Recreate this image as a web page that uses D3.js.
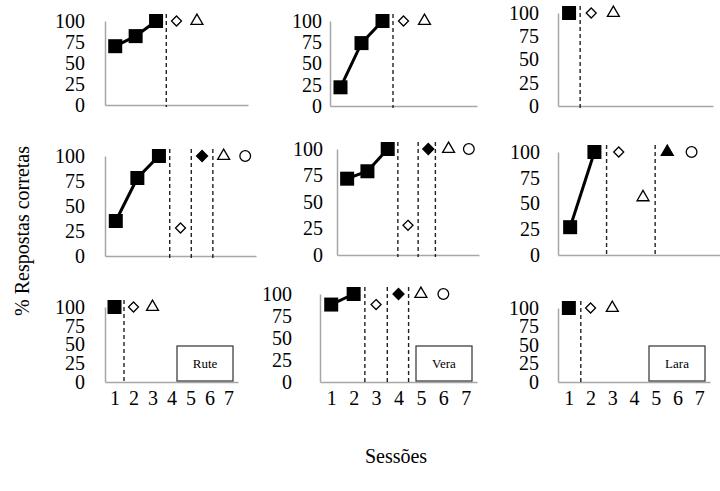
<!DOCTYPE html>
<html>
<head>
<meta charset="utf-8">
<script src="https://cdn.jsdelivr.net/npm/d3@7"></script>
<style>
  body { margin: 0; background: #fff; }
  svg { display: block; font-family: "Liberation Serif", "Times New Roman", serif; }
</style>
</head>
<body>
<svg id="chart" width="720" height="491"></svg>
<script>
// values, one entry per panel (row by row)
const sessions = [1, 2, 3, 4, 5, 6, 7];
const yTicks = [0, 25, 50, 75, 100];
const names = [null, null, null, null, null, null, "Rute", "Vera", "Lara"];

const baseline = [[70, 82, 100], [22, 74, 100], [100], [35, 78, 100], [72, 79, 100], [27, 100], [100], [88, 100], [100]];
const openDiamond = [[4, 100], [4, 100], [2, 100], [4, 28], [4, 28], [3, 100], [2, 100], [3, 88], [2, 100]];
const filledDiamond = [null, null, null, [5, 100], [5, 100], null, null, [4, 100], null];
const openTriangle = [[5, 100], [5, 100], [3, 100], [6, 100], [6, 100], [4, 56], [3, 100], [5, 100], [3, 100]];
const filledTriangle = [null, null, null, null, null, [5, 100], null, null, null];
const openCircle = [null, null, null, [7, 100], [7, 100], [6, 100], null, [6, 100], null];
const phaseLines = [[3.5], [3.5], [1.5], [3.5, 4.5, 5.5], [3.5, 4.5, 5.35], [2.5, 4.5], [1.5], [2.5, 3.5, 4.45], [1.55]];

// panel frames in pixels: axis left/right, y of 100 and of 0, right edge of the y labels
const frames = [
  { x0: 105, x1: 248, top: 21, bottom: 105, lx: 85 },
  { x0: 330, x1: 477, top: 21, bottom: 106, lx: 322 },
  { x0: 558, x1: 713, top: 13, bottom: 106, lx: 539 },
  { x0: 105, x1: 256, top: 156, bottom: 256, lx: 85 },
  { x0: 337, x1: 479, top: 149, bottom: 255, lx: 323 },
  { x0: 558, x1: 728, top: 152, bottom: 255, lx: 540 },
  { x0: 105, x1: 238, top: 307, bottom: 382, lx: 85 },
  { x0: 320, x1: 477, top: 294, bottom: 382, lx: 292 },
  { x0: 558, x1: 710, top: 308, bottom: 382, lx: 539 }
];

const svg = d3.select("#chart");
svg.append("rect").attr("width", 720).attr("height", 491).attr("fill", "#fff");

const axisGray = "#a6a6a6";
const diamond = (r) => `M0,${-r}L${r},0L0,${r}L${-r},0Z`;

const styleAxis = (a) => {
  a.attr("font-family", null).attr("font-size", 20);
  a.select(".domain").attr("stroke", axisGray).attr("stroke-width", 1.5);
  a.selectAll(".tick text").attr("fill", "#000");
};

frames.forEach((f, i) => {
  const x = d3.scaleLinear().domain([0.5, 7.5]).range([f.x0, f.x1]);
  const y = d3.scaleLinear().domain([0, 100]).range([f.bottom, f.top]);
  const g = svg.append("g");

  // y axis
  g.append("g")
    .attr("transform", `translate(${f.x0},0)`)
    .call(d3.axisLeft(y).tickValues(yTicks).tickFormat(d3.format("d"))
      .tickSize(0).tickSizeOuter(0).tickPadding(f.x0 - f.lx))
    .call(styleAxis);

  // x axis, labels only on the bottom row
  const bottomRow = i >= 6;
  g.append("g")
    .attr("transform", `translate(0,${f.bottom})`)
    .call(d3.axisBottom(x).tickValues(bottomRow ? sessions : []).tickFormat(d3.format("d"))
      .tickSize(0).tickSizeOuter(0).tickPadding(9))
    .call(styleAxis);

  // phase change lines
  g.selectAll(".phase")
    .data(phaseLines[i])
    .join("line")
    .attr("x1", (d) => x(d))
    .attr("x2", (d) => x(d))
    .attr("y1", f.top - 7)
    .attr("y2", f.bottom + 2)
    .attr("stroke", "#222")
    .attr("stroke-width", 1.4)
    .attr("stroke-dasharray", "4,3");

  // baseline squares with line
  const pts = baseline[i].map((v, k) => [sessions[k], v]);
  g.append("path")
    .datum(pts)
    .attr("fill", "none")
    .attr("stroke", "#000")
    .attr("stroke-width", 3)
    .attr("d", d3.line().x((d) => x(d[0])).y((d) => y(d[1])));
  g.selectAll(".sq")
    .data(pts)
    .join("rect")
    .attr("x", (d) => x(d[0]) - 7)
    .attr("y", (d) => y(d[1]) - 7)
    .attr("width", 14)
    .attr("height", 14)
    .attr("fill", "#000");

  const mark = (d, path, filled) => {
    if (!d) return;
    g.append("path")
      .attr("transform", `translate(${x(d[0])},${y(d[1])})`)
      .attr("d", path)
      .attr("fill", filled ? "#000" : "#fff")
      .attr("stroke", "#000")
      .attr("stroke-width", 1.3);
  };
  mark(openDiamond[i], diamond(5), false);
  mark(filledDiamond[i], diamond(5.5), true);
  mark(openTriangle[i], d3.symbol(d3.symbolTriangle, 62)(), false);
  mark(filledTriangle[i], d3.symbol(d3.symbolTriangle, 62)(), true);
  mark(openCircle[i], d3.symbol(d3.symbolCircle, 90)(), false);

  // participant name box
  if (names[i]) {
    const bx = f.x1 - 61, by = f.bottom - 36;
    g.append("rect")
      .attr("x", bx).attr("y", by).attr("width", 56).attr("height", 35)
      .attr("fill", "#fff").attr("stroke", "#404040").attr("stroke-width", 1.3);
    g.append("text")
      .attr("x", bx + 28).attr("y", by + 22)
      .attr("text-anchor", "middle")
      .attr("font-size", 13)
      .text(names[i]);
  }
});

svg.append("text")
  .attr("transform", "translate(29,231) rotate(-90)")
  .attr("text-anchor", "middle")
  .attr("font-size", 20)
  .text("% Respostas corretas");

svg.append("text")
  .attr("x", 396)
  .attr("y", 463)
  .attr("text-anchor", "middle")
  .attr("font-size", 20)
  .text("Sessões");
</script>
</body>
</html>
